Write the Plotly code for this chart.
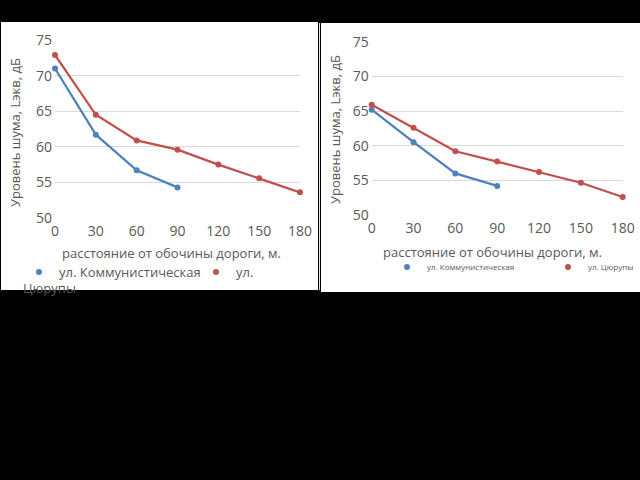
import plotly.graph_objects as go

# ---- data ----
distances = [0, 30, 60, 90, 120, 150, 180]
x_ticks = [0, 30, 60, 90, 120, 150, 180]
y_ticks = [50, 55, 60, 65, 70, 75]

left_kommun = [71.0, 61.7, 56.7, 54.3]
left_tsyur = [72.9, 64.5, 60.9, 59.6, 57.5, 55.6, 53.6]
right_kommun = [65.2, 60.5, 56.0, 54.2]
right_tsyur = [65.9, 62.6, 59.2, 57.7, 56.2, 54.65, 52.6]

name_kommun = "ул. Коммунистическая"
name_tsyur_left = "ул."
name_tsyur_left_wrap = "Цюрупы"
name_tsyur_right = "ул. Цюрупы"
x_title = "расстояние от обочины дороги, м."
y_title = "Уровень шума, Lэкв, дБ"

BLUE = "#4F81BD"
RED = "#C0504D"
GRAY_TXT = "#595959"
GRID = "#D9D9D9"
FONT = "Open Sans"

W, H = 640, 480


def fx(p):
    return p / W


def fy(p):
    return 1 - p / H


fig = go.Figure()


def add_series(xs, ys, name, color, xa, ya, legend):
    # line part (no legend entry)
    fig.add_trace(go.Scatter(x=xs, y=ys, name=name, mode="lines",
                             line=dict(color=color, width=2.25), cliponaxis=False,
                             xaxis=xa, yaxis=ya, showlegend=False, hoverinfo="skip"))
    # marker part (legend entry: marker only, like the Excel legend)
    fig.add_trace(go.Scatter(x=xs, y=ys, name=name, mode="markers",
                             marker=dict(size=6, color=color), cliponaxis=False,
                             xaxis=xa, yaxis=ya, legend=legend, showlegend=True))


add_series(distances[:len(left_kommun)], left_kommun, name_kommun, BLUE, "x", "y", "legend")
add_series(distances, left_tsyur, name_tsyur_left, RED, "x", "y", "legend2")
add_series(distances[:len(right_kommun)], right_kommun, name_kommun, BLUE, "x2", "y2", "legend3")
add_series(distances, right_tsyur, name_tsyur_right, RED, "x2", "y2", "legend4")

axis_common_x = dict(range=[0, 180], tickvals=x_ticks, showgrid=False, zeroline=False,
                     showline=False, ticks="", ticklabelstandoff=3,
                     tickfont=dict(family=FONT, size=14, color=GRAY_TXT),
                     automargin=False, fixedrange=True)
axis_common_y = dict(range=[50, 75], tickvals=y_ticks, showgrid=True, gridcolor=GRID, gridwidth=1,
                     zeroline=False, showline=False, ticks="", ticklabelstandoff=2,
                     tickfont=dict(family=FONT, size=14, color=GRAY_TXT),
                     automargin=False, fixedrange=True)

legend_common = dict(orientation="h", bgcolor="rgba(0,0,0,0)", xanchor="left", yanchor="middle",
                     itemclick=False, itemdoubleclick=False)

fig.update_layout(
    width=W, height=H,
    showlegend=True,
    margin=dict(l=0, r=0, t=0, b=0),
    paper_bgcolor="black", plot_bgcolor="rgba(0,0,0,0)",
    font=dict(family=FONT, color=GRAY_TXT),
    xaxis=dict(domain=[fx(55), fx(300)], anchor="y", **axis_common_x),
    yaxis=dict(domain=[fy(218), fy(40)], anchor="x", **axis_common_y),
    xaxis2=dict(domain=[fx(371.7), fx(622.7)], anchor="y2", **axis_common_x),
    yaxis2=dict(domain=[fy(215), fy(41.7)], anchor="x2", **axis_common_y),
    legend=dict(x=fx(59 - 40), y=fy(272), font=dict(family=FONT, size=13, color=GRAY_TXT), **legend_common),
    legend2=dict(x=fx(236 - 40), y=fy(272), font=dict(family=FONT, size=13, color=GRAY_TXT), **legend_common),
    legend3=dict(x=fx(427 - 40), y=fy(267), font=dict(family=FONT, size=8, color=GRAY_TXT), **legend_common),
    legend4=dict(x=fx(588 - 40), y=fy(267), font=dict(family=FONT, size=8, color=GRAY_TXT), **legend_common),
    shapes=[
        dict(type="rect", xref="paper", yref="paper", x0=fx(1), x1=fx(318), y0=fy(290), y1=fy(22),
             fillcolor="white", line=dict(width=0), layer="below"),
        dict(type="rect", xref="paper", yref="paper", x0=fx(321), x1=fx(640), y0=fy(292), y1=fy(23),
             fillcolor="white", line=dict(width=0), layer="below"),
        dict(type="line", xref="paper", yref="paper", x0=fx(319.5), x1=fx(319.5), y0=fy(290), y1=fy(23),
             line=dict(color="#E6E6E6", width=1), layer="below"),
    ],
    annotations=[
        dict(text=y_title, xref="paper", yref="paper", x=fx(15), y=fy(133), textangle=-90,
             showarrow=False, xanchor="center", yanchor="middle",
             font=dict(family=FONT, size=13, color=GRAY_TXT)),
        dict(text=x_title, xref="paper", yref="paper", x=fx(171), y=fy(253),
             showarrow=False, xanchor="center", yanchor="middle",
             font=dict(family=FONT, size=13, color=GRAY_TXT)),
        dict(text=name_tsyur_left_wrap, xref="paper", yref="paper", x=fx(21), y=fy(288),
             showarrow=False, xanchor="left", yanchor="middle",
             font=dict(family=FONT, size=13, color=GRAY_TXT)),
        dict(text=y_title, xref="paper", yref="paper", x=fx(335), y=fy(130), textangle=-90,
             showarrow=False, xanchor="center", yanchor="middle",
             font=dict(family=FONT, size=13, color=GRAY_TXT)),
        dict(text=x_title, xref="paper", yref="paper", x=fx(492), y=fy(252),
             showarrow=False, xanchor="center", yanchor="middle",
             font=dict(family=FONT, size=13, color=GRAY_TXT)),
    ],
)

fig.write_html(
    "out.html",
    config={"displayModeBar": False},
    post_script="document.body.style.margin='0';document.body.style.background='black';"
                "document.body.style.overflow='hidden';",
)
